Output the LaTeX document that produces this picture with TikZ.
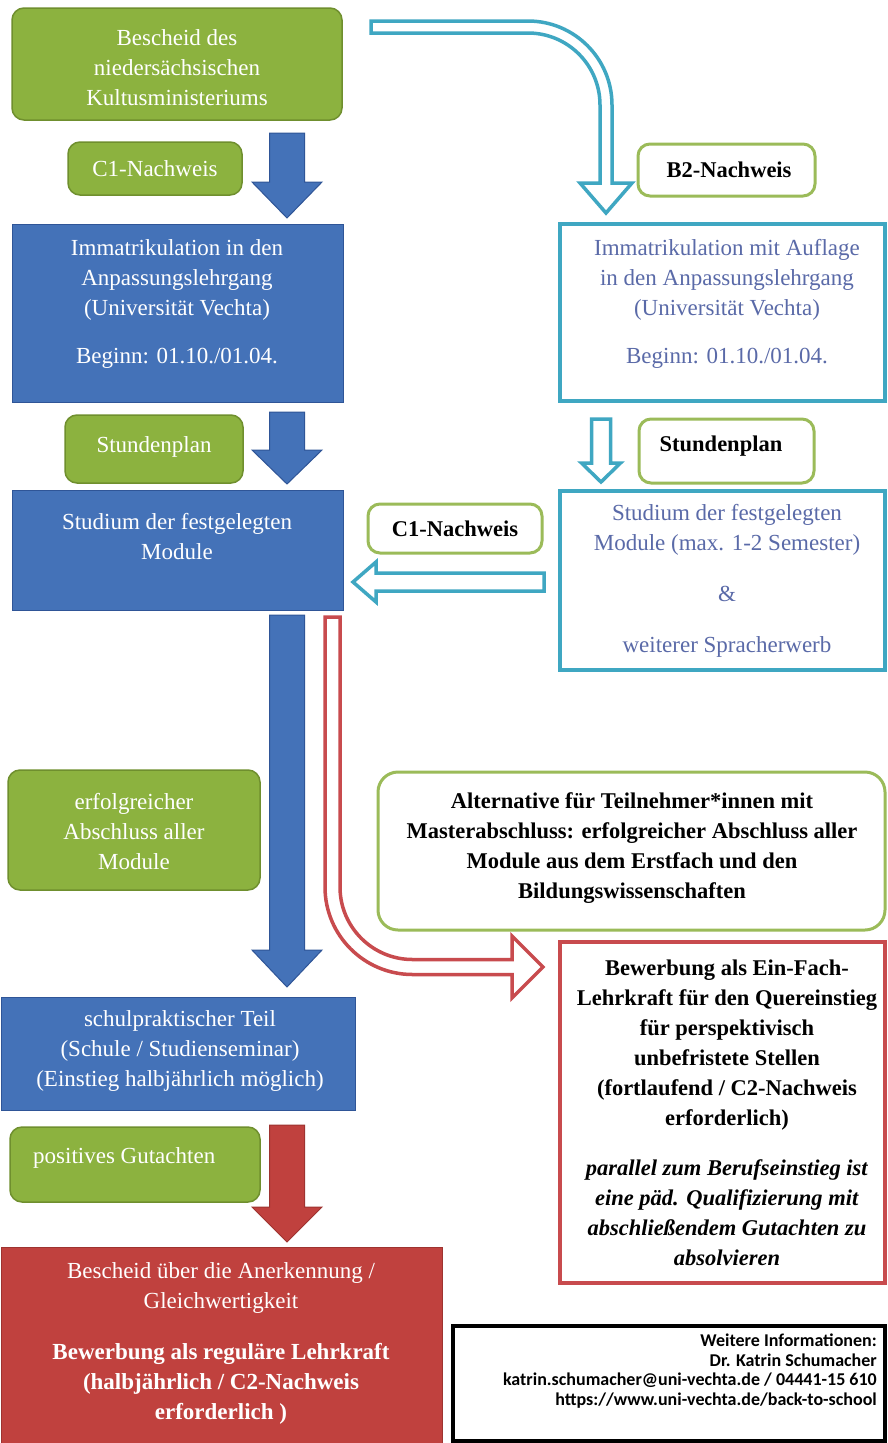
\documentclass[tikz,border=0pt]{standalone}
\usepackage{fontspec}
\setmainfont{Liberation Serif}
\newfontfamily\infofont{Carlito}
\definecolor{grn}{HTML}{8CB23F}
\definecolor{grnD}{HTML}{6F8F2E}
\definecolor{blu}{HTML}{4472B8}
\definecolor{bluD}{HTML}{2F5597}
\definecolor{cyn}{HTML}{3FA7C2}
\definecolor{redF}{HTML}{C0413E}
\definecolor{redD}{HTML}{9E3330}
\definecolor{redL}{HTML}{C84B4E}
\definecolor{slate}{HTML}{5A6AA8}
\definecolor{gbord}{HTML}{9BBB59}
\newcommand\reg{\fontsize{23}{30}\selectfont}
\newcommand\bld{\fontsize{22.5}{30}\selectfont\bfseries}
\newcommand\downarr[7]{\draw[#1] ({#2-#6},{-#3}) -- ({#2+#6},{-#3}) -- ({#2+#6},{-#4}) -- ({#2+#7},{-#4}) -- (#2,{-#5}) -- ({#2-#7},{-#4}) -- ({#2-#6},{-#4}) -- cycle;}
\begin{document}
\begin{tikzpicture}[x=1pt,y=1pt,
  gbox/.style={draw=grnD,fill=grn,line width=1.5pt,rounded corners=12pt,inner sep=0pt},
  bbox/.style={draw=bluD,fill=blu,line width=1pt,inner sep=0pt},
  rbox/.style={draw=redD,fill=redF,line width=1pt,inner sep=0pt},
  cbox/.style={draw=cyn,fill=white,line width=4pt,inner sep=0pt},
  obox/.style={draw=gbord,fill=white,line width=3pt,rounded corners=12pt,inner sep=0pt},
  redframe/.style={draw=redL,fill=white,line width=4pt,inner sep=0pt},
  infobox/.style={draw=black,fill=white,line width=4pt,inner sep=0pt},
  wt/.style={text=white,align=center,inner sep=0pt,font=\reg},
  st/.style={text=slate,align=center,inner sep=0pt,font=\reg},
  kt/.style={text=black,align=center,inner sep=0pt,font=\bld},
  barrow/.style={fill=blu,draw=bluD,line width=1pt,line join=miter},
  rarrow/.style={fill=redF,draw=redD,line width=1pt,line join=miter},
  carrow/.style={fill=white,draw=cyn,line width=3.5pt,line join=miter},
  rharrow/.style={fill=white,draw=redL,line width=3.5pt,line join=miter},
]
\useasboundingbox (0,0) rectangle (887,-1443);
\fill[white] (0,0) rectangle (887,-1443);

% boxes
\node[gbox,minimum width=330pt,minimum height=112pt] (g1) at (177,-64) {};
\node[gbox,minimum width=174pt,minimum height=53pt] (g2) at (155,-168.5) {};
\node[gbox,minimum width=178pt,minimum height=68pt] (g3) at (154,-449) {};
\node[gbox,minimum width=252pt,minimum height=120pt] (g4) at (134,-830) {};
\node[gbox,minimum width=250pt,minimum height=75pt] (g5) at (135,-1164.5) {};
\node[bbox,minimum width=331pt,minimum height=178pt] (b1) at (177.5,-313) {};
\node[bbox,minimum width=331pt,minimum height=120pt] (b2) at (177.5,-550) {};
\node[bbox,minimum width=354pt,minimum height=113pt] (b3) at (178,-1053.5) {};
\node[rbox,minimum width=441pt,minimum height=196pt] (r1) at (221.5,-1345) {};
\node[cbox,minimum width=325pt,minimum height=177pt] (c1) at (722.5,-312.5) {};
\node[cbox,minimum width=325pt,minimum height=179pt] (c2) at (722.5,-580.5) {};
\node[obox,minimum width=177pt,minimum height=52pt] (w1) at (726.5,-170) {};
\node[obox,minimum width=175pt,minimum height=64pt] (w2) at (726.5,-451) {};
\node[obox,minimum width=174pt,minimum height=49pt] (w3) at (455,-528.5) {};
\node[obox,minimum width=507pt,minimum height=158pt,rounded corners=20pt] (w4) at (631.5,-851) {};
\node[redframe,minimum width=325pt,minimum height=341pt] (r2) at (722.5,-1112.5) {};
\node[infobox,minimum width=432pt,minimum height=115pt] (info) at (669,-1383.5) {};

% texts
\node[wt] (g1t) at (177,-68) {Bescheid des\\niedersächsischen\\Kultusministeriums};
\node[wt] (g2t) at (155,-169) {C1-Nachweis};
\node[wt] (g3t) at (154,-447) {Stundenplan};
\node[wt] (g4t) at (134,-832) {erfolgreicher\\Abschluss aller\\Module};
\node[wt,anchor=west] (g5t) at (33,-1158) {positives Gutachten};
\node[wt] (b1t) at (177,-304) {Immatrikulation in den\\Anpassungslehrgang\\(Universität Vechta)\\[18pt]Beginn: 01.10./01.04.};
\node[wt] (b2t) at (177,-537) {Studium der festgelegten\\Module};
\node[wt] (b3t) at (180,-1051) {schulpraktischer Teil\\(Schule / Studienseminar)\\(Einstieg halbjährlich möglich)};
\node[wt] (r1t) at (221,-1343) {Bescheid über die Anerkennung /\\Gleichwertigkeit\\[21pt]\textbf{Bewerbung als reguläre Lehrkraft}\\\textbf{(halbjährlich / C2-Nachweis}\\\textbf{erforderlich )}};
\node[st] (c1t) at (727,-304) {Immatrikulation mit Auflage\\in den Anpassungslehrgang\\(Universität Vechta)\\[18pt]Beginn: 01.10./01.04.};
\node[st] (c2t) at (727,-581) {Studium der festgelegten\\Module (max. 1-2 Semester)\\[21pt]\&\\[21pt]weiterer Spracherwerb};
\node[kt] (w1t) at (729,-170) {B2-Nachweis};
\node[kt] (w2t) at (721,-446) {Stundenplan};
\node[kt] (w3t) at (455,-529) {C1-Nachweis};
\node[kt] (w4t) at (632,-848) {Alternative für Teilnehmer*innen mit\\Masterabschluss: erfolgreicher Abschluss aller\\Module aus dem Erstfach und den\\Bildungswissenschaften};
\node[kt] (r2t) at (727,-1113) {Bewerbung als Ein-Fach-\\Lehrkraft für den Quereinstieg\\für perspektivisch\\unbefristete Stellen\\(fortlaufend / C2-Nachweis\\erforderlich)\\[20pt]\textit{parallel zum Berufseinstieg ist}\\\textit{eine päd. Qualifizierung mit}\\\textit{abschließendem Gutachten zu}\\\textit{absolvieren}};
\node[align=right,anchor=east,inner sep=0pt,font=\infofont\fontsize{18}{19.5}\selectfont\bfseries] (infot) at (877,-1371) {Weitere Informationen:\\Dr. Katrin Schumacher\\katrin.schumacher@uni-vechta.de / 04441-15 610\\https://www.uni-vechta.de/back-to-school};

% block arrows
\downarr{barrow}{287}{133}{182}{218}{17.5}{35}
\downarr{barrow}{287}{412}{450}{484}{17.5}{35}
\downarr{barrow}{287}{615}{950}{987}{17.5}{35}
\downarr{rarrow}{287}{1125}{1207}{1242}{17.5}{35}
\downarr{carrow}{601}{419}{463}{482}{9.5}{19.5}
% cyan left arrow (C1 back to studies)
\draw[carrow] (544,-573) -- (376,-573) -- (376,-562) -- (353,-582) -- (376,-602) -- (376,-591) -- (544,-591) -- cycle;
% cyan curved arrow
\draw[carrow] (371,-21) -- (528,-21) arc[start angle=90,end angle=0,radius=84] -- (612,-183) -- (632,-183) -- (606,-213) -- (580,-183) -- (600,-183) -- (600,-105) arc[start angle=0,end angle=90,radius=72] -- (371,-33) -- cycle;
% red curved arrow
\draw[rharrow] (325,-617) -- (325,-887) arc[start angle=180,end angle=270,radius=87.5] -- (512,-974.5) -- (512,-998) -- (543,-967) -- (512,-936) -- (512,-959.5) -- (412.5,-959.5) arc[start angle=270,end angle=180,radius=72.5] -- (340,-617) -- cycle;
\end{tikzpicture}
\end{document}
